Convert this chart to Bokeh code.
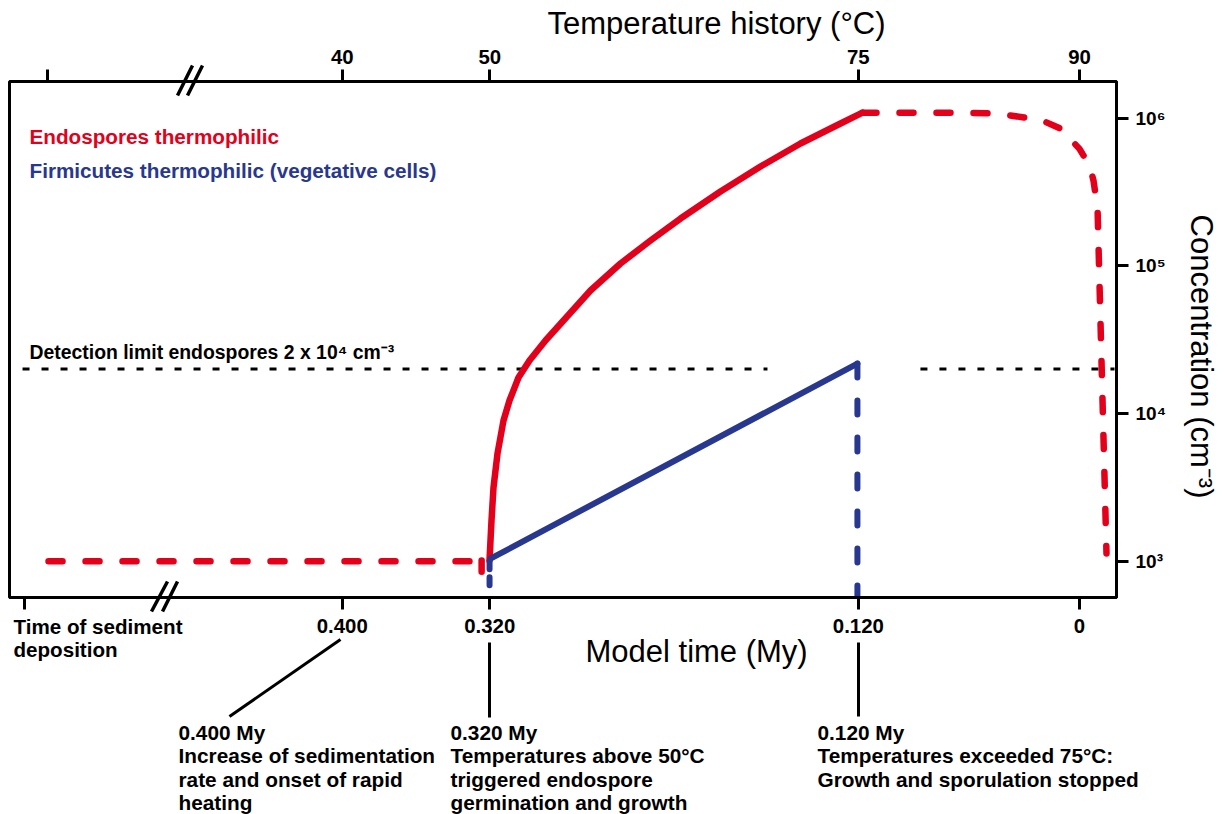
import math
from bokeh.plotting import figure
from bokeh.models import Range1d, LinearAxis, FixedTicker, Label, GridBox, Column
from bokeh.embed import file_html
from bokeh.resources import INLINE

# ---------------- data (model time in My, concentration in cells per cm3) ----------------
red_rise_time = [0.32013, 0.31904, 0.31796, 0.31579, 0.31253, 0.30928, 0.30439, 0.29843, 0.28975, 0.27998,
                 0.26533, 0.24905, 0.23277, 0.21649, 0.19479, 0.17309, 0.15138, 0.12968, 0.11774]
red_rise_conc = [1011, 1886, 3156, 5362, 8970, 12250, 17540, 22870, 31230, 42660,
                 68110, 103750, 148500, 209300, 318900, 470900, 674200, 920700, 1091000]

red_fall_time = [0.11774, 0.070, 0.045, 0.030, 0.0212, 0.0103, 0.0, -0.0055, -0.0076, -0.0098, -0.01465]
red_fall_conc = [1091000, 1090000, 1080000, 1010000, 977000, 850000, 620000, 478000, 378000, 243800, 1128]

red_flat_time = [0.5594, 0.3310]
red_flat_conc = [1000, 1000]
red_dip_time = [0.3244, 0.3244]
red_dip_conc = [1010, 850]

blue_growth_time = [0.3196, 0.1205]
blue_growth_conc = [1040, 21800]
blue_stop_time = [0.1205, 0.1205]
blue_stop_conc = [21800, 560]
blue_start_time = [0.3201, 0.3201]
blue_start_conc = [1000, 640]

detect_time_a = [0.5735, 0.1693]
detect_time_b = [0.0863, -0.0190]
detect_conc = [20000, 20000]

bottom_ticks = [0.5724, 0.4, 0.32, 0.12, 0.0]
bottom_labels = ["", "0.400", "0.320", "0.120", "0"]
top_ticks = [0.5602, 0.4, 0.32, 0.12, 0.0]
top_labels = ["", "40", "50", "75", "90"]
conc_ticks = [1000, 10000, 100000, 1000000]
conc_labels = ["10³", "10⁴", "10⁵", "10⁶"]

RED = "#E3001B"
BLUE = "#28388F"
FONT = "Liberation Sans"

# ---------------- layout constants ----------------
W, H = 1224, 814
FL, FR, FT, FB = 9, 1116, 81, 597

p = figure(width=W, height=H, output_backend="svg", toolbar_location=None,
           x_range=Range1d(0.58057, -0.02008), y_range=Range1d(567.8, 1.7726e6),
           y_axis_type="log", x_axis_location="below", y_axis_location="right",
           min_border_left=FL, min_border_right=W - FR, min_border_top=FT, min_border_bottom=H - FB)
p.xgrid.visible = False
p.ygrid.visible = False
p.outline_line_color = "black"
p.outline_line_width = 3
p.background_fill_color = "white"
p.border_fill_color = "white"

top_axis = LinearAxis()
p.add_layout(top_axis, "above")

bottom_axis = p.below[0]
right_axis = p.right[0]

bottom_axis.ticker = FixedTicker(ticks=bottom_ticks, minor_ticks=[])
bottom_axis.major_label_overrides = dict(zip(bottom_ticks, bottom_labels))
top_axis.ticker = FixedTicker(ticks=top_ticks, minor_ticks=[])
top_axis.major_label_overrides = dict(zip(top_ticks, top_labels))
right_axis.ticker = FixedTicker(ticks=conc_ticks, minor_ticks=[])
right_axis.major_label_overrides = dict(zip(conc_ticks, conc_labels))

for ax in (bottom_axis, top_axis, right_axis):
    ax.axis_line_width = 3
    ax.axis_line_color = "black"
    ax.major_tick_line_width = 3
    ax.major_tick_line_color = "black"
    ax.major_tick_out = 12
    ax.major_tick_in = 0
    ax.minor_tick_line_color = None
    ax.major_label_text_font = FONT
    ax.major_label_text_font_style = "bold"
    ax.major_label_text_font_size = "20.4px"
    ax.major_label_text_color = "black"
bottom_axis.major_label_standoff = 9
top_axis.major_label_standoff = 6
right_axis.major_label_standoff = 7
right_axis.major_label_text_font_size = "19px"

# ---------------- curves ----------------
p.line(detect_time_a, detect_conc, line_color="black", line_width=3, line_dash="7 12")
p.line(detect_time_b, detect_conc, line_color="black", line_width=3, line_dash="7 12")

p.line(red_flat_time, red_flat_conc, line_color=RED, line_width=6.5, line_dash="14 23", line_cap="round")
p.line(red_dip_time, red_dip_conc, line_color=RED, line_width=6.5, line_cap="round")
p.line(red_rise_time, red_rise_conc, line_color=RED, line_width=6.5, line_join="round", line_cap="round")
p.line(red_fall_time, red_fall_conc, line_color=RED, line_width=6.5, line_dash="14 23",
       line_cap="round", line_join="round")

p.line(blue_growth_time, blue_growth_conc, line_color=BLUE, line_width=6, line_cap="round")
p.line(blue_stop_time, blue_stop_conc, line_color=BLUE, line_width=6, line_dash="14 23", line_cap="round")
p.line(blue_start_time, blue_start_conc, line_color=BLUE, line_width=6, line_dash="8 8", line_cap="round")

# ---------------- transparent overlay (page pixels, y downwards) for texts and leader lines ----------------
ov = figure(width=W, height=H, output_backend="svg", toolbar_location=None,
            x_range=Range1d(0, W), y_range=Range1d(H, 0),
            x_axis_location=None, y_axis_location=None, min_border=0)
ov.xgrid.visible = False
ov.ygrid.visible = False
ov.outline_line_color = None
ov.background_fill_alpha = 0
ov.border_fill_alpha = 0

# axis-break marks and leader lines
ov.segment(x0=[177, 187, 151, 162], y0=[95, 95, 611, 611], x1=[192, 202, 167, 177], y1=[65, 65, 581, 581],
           line_color="black", line_width=3.5)
ov.segment(x0=[340, 489, 858], y0=[639, 642, 642], x1=[229, 489, 858], y1=[716, 717, 716],
           line_color="black", line_width=3)


def text(px, base, s, size=20.8, style="bold", color="black", **kw):
    ov.add_layout(Label(x=px, y=base - 0.35 * size, text=s,
                        text_font=FONT, text_font_size=f"{size}px", text_font_style=style,
                        text_color=color, text_baseline="middle",
                        text_align=kw.pop("align", "left"), **kw))


text(29, 143.5, "Endospores thermophilic", size=20.7, color=RED)
text(29, 177.5, "Firmicutes thermophilic (vegetative cells)", size=20.7, color=BLUE)
text(29, 358, "Detection limit endospores 2 x 10⁴ cm⁻³", size=19.4)

text(13, 633, "Time of sediment", size=20.6)
text(13, 656, "deposition", size=20.6)

text(547, 34, "Temperature history (°C)", size=31, style="normal")
text(585, 662, "Model time (My)", size=31, style="normal")
ov.add_layout(Label(x=1201, y=356, text="Concentration (cm⁻³)", text_font=FONT, text_font_size="31px",
                    text_color="black", text_align="center", text_baseline="middle", angle=-math.pi / 2))

blocks = [
    (178, ["0.400 My", "Increase of sedimentation", "rate and onset of rapid", "heating"]),
    (450, ["0.320 My", "Temperatures above 50°C", "triggered endospore", "germination and growth"]),
    (817, ["0.120 My", "Temperatures exceeded 75°C:", "Growth and sporulation stopped"]),
]
for bx, lines in blocks:
    for i, ln in enumerate(lines):
        text(bx, 739 + i * 23.4, ln)

page = GridBox(children=[(Column(children=[p]), 0, 0), (Column(children=[ov]), 0, 0)])
open("out.html", "w").write(file_html(page, INLINE))
